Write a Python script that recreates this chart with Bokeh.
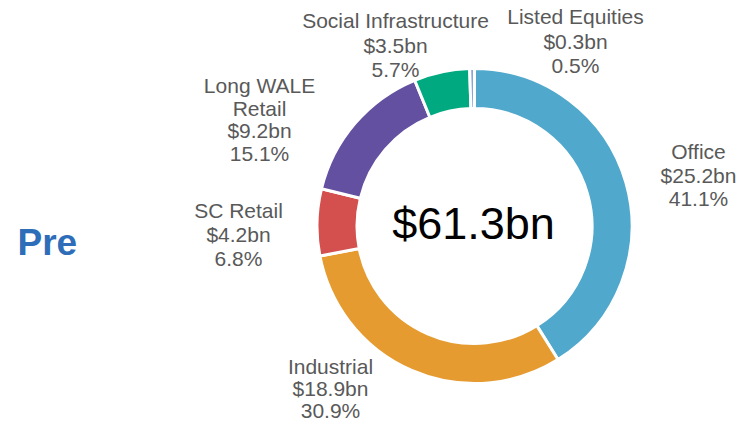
import numpy as np
from bokeh.plotting import figure
from bokeh.models import Range1d, ColumnDataSource
from bokeh.core.properties import value
from bokeh.embed import file_html
from bokeh.resources import INLINE

# ---- data ----
categories = ["Office", "Industrial", "SC Retail", "Long WALE Retail",
              "Social Infrastructure", "Listed Equities"]
label_names = [["Office"], ["Industrial"], ["SC Retail"], ["Long WALE", "Retail"],
               ["Social Infrastructure"], ["Listed Equities"]]
values_bn = [25.2, 18.9, 4.2, 9.2, 3.5, 0.3]
percents = [41.1, 30.9, 6.8, 15.1, 5.7, 0.5]
total_bn = 61.3
title_text = "Pre"

# ---- styles / layout ----
colors = ["#50A8CC", "#E59B30", "#D3504F", "#6450A0", "#00A97F", "#8AA6D4"]
W, H = 736, 424
def py(y):  # pixel y (from top) -> data y
    return H - y

cx, cy = 474, py(225.5)
r_out, r_in = 157.5, 117.5
label_anchor = [(698, 151), (330, 366), (238, 210), (259, 85), (395, 20), (575, 16)]
line_gap = [23.5, 22, 24, 22.5, 24.5, 24.5]

p = figure(width=W, height=H, x_range=Range1d(0, W), y_range=Range1d(0, H),
           output_backend="svg", toolbar_location=None, min_border=0,
           x_axis_type=None, y_axis_type=None)
p.grid.visible = False
p.outline_line_color = None
p.background_fill_color = "white"
p.border_fill_color = "white"

vals = np.array(values_bn)
frac = vals / vals.sum()
c1 = np.cumsum(frac)
c0 = c1 - frac
start = np.pi / 2 - 2 * np.pi * c0
end = np.pi / 2 - 2 * np.pi * c1

src = ColumnDataSource(dict(start=start, end=end, color=colors, cat=categories))
p.annular_wedge(x=cx, y=cy, inner_radius=r_in, outer_radius=r_out,
                start_angle="start", end_angle="end", direction="clock",
                fill_color="color", line_color="white", line_width=3, source=src)

tx, ty, tt = [], [], []
for i, cat in enumerate(categories):
    lines = label_names[i] + [f"${values_bn[i]}bn", f"{percents[i]}%"]
    ax, ay = label_anchor[i]
    for j, ln in enumerate(lines):
        tx.append(ax)
        ty.append(py(ay + j * line_gap[i]))
        tt.append(ln)
p.text(x=tx, y=ty, text=tt, text_font=value("Liberation Sans"), text_font_size="21px",
       text_color="#595959", text_align="center", text_baseline="middle")

p.text(x=[473], y=[py(223)], text=[f"${total_bn}bn"], text_font=value("Liberation Sans"),
       text_font_size="45px", text_color="#000000", text_align="center", text_baseline="middle")

p.text(x=[17], y=[py(242)], text=[title_text], text_font=value("Liberation Sans"),
       text_font_size="37px", text_font_style="bold", text_color="#2E6DB8",
       text_align="left", text_baseline="middle")

open("out.html", "w").write(file_html(p, INLINE))
